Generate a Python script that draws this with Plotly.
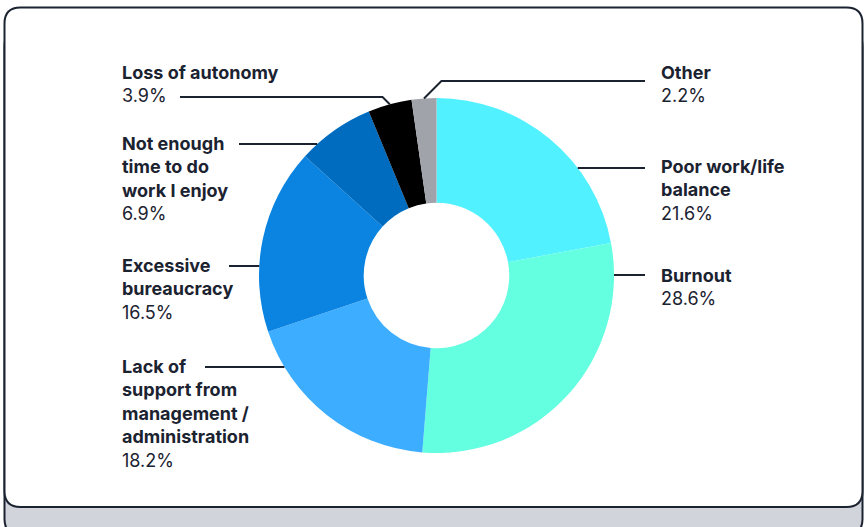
import math
import plotly.graph_objects as go

# Reasons and their shares (%)
reasons = [
    "Poor work/life balance",
    "Burnout",
    "Lack of support from management / administration",
    "Excessive bureaucracy",
    "Not enough time to do work I enjoy",
    "Loss of autonomy",
    "Other",
]
shares = [21.6, 28.6, 18.2, 16.5, 6.9, 3.9, 2.2]
slice_colors = ["#52F1FF", "#63FFE0", "#3DAEFF", "#0A84E0", "#006CC0", "#000000", "#A0A4AA"]

# Label text broken into lines as displayed
label_lines = [
    ["Poor work/life", "balance"],
    ["Burnout"],
    ["Lack of", "support from", "management /", "administration"],
    ["Excessive", "bureaucracy"],
    ["Not enough", "time to do", "work I enjoy"],
    ["Loss of autonomy"],
    ["Other"],
]
label_side = ["right", "right", "left", "left", "left", "left", "right"]
label_first_y = [167, 276, 367, 266, 144, 73, 73]     # px, centre of first text line
leader_y = [168, 275, 367, 266, 144, 97, 81]          # px, horizontal part of leader
leader_outer_x = [645, 645, 205, 229, 239, 180, 645]  # px, label end of the leader

W, H = 867, 527
CX, CY, R = 436.5, 275.5, 177.5
LEFT_X, RIGHT_X = 120, 659
FS = 18
INK = "#1B2230"


def px(x):
    return x / W


def py(y):
    return 1 - y / H


fig = go.Figure()
fig.add_trace(go.Pie(
    labels=reasons,
    values=shares,
    hole=0.41,
    sort=False,
    direction="clockwise",
    rotation=0,
    textinfo="none",
    hoverinfo="label+value",
    marker=dict(colors=slice_colors, line=dict(width=0)),
    domain=dict(x=[px(CX - R), px(CX + R)], y=[py(CY + R), py(CY - R)]),
    showlegend=False,
))

shapes = []


def rounded_rect(x0, y0, x1, y1, r):
    pts = [
        f"M {px(x0 + r)},{py(y0)}",
        f"L {px(x1 - r)},{py(y0)}",
        f"Q {px(x1)},{py(y0)} {px(x1)},{py(y0 + r)}",
        f"L {px(x1)},{py(y1 - r)}",
        f"Q {px(x1)},{py(y1)} {px(x1 - r)},{py(y1)}",
        f"L {px(x0 + r)},{py(y1)}",
        f"Q {px(x0)},{py(y1)} {px(x0)},{py(y1 - r)}",
        f"L {px(x0)},{py(y0 + r)}",
        f"Q {px(x0)},{py(y0)} {px(x0 + r)},{py(y0)}",
        "Z",
    ]
    return " ".join(pts)


# Card with a raised grey base
shapes.append(dict(type="path", path=rounded_rect(4.5, 30, 862.5, 535, 16), xref="paper", yref="paper",
                   fillcolor="#D1D5DB", line=dict(color=INK, width=2), layer="below"))
shapes.append(dict(type="path", path=rounded_rect(4.5, 7.5, 862.5, 507, 16), xref="paper", yref="paper",
                   fillcolor="#FFFFFF", line=dict(color=INK, width=2), layer="below"))

total = sum(shares)
cum = 0.0
annotations = []
for i, v in enumerate(shares):
    mid = (cum + v / 2) / total * 2 * math.pi
    cum += v
    ly = leader_y[i]
    side = label_side[i]
    sgn = 1 if side == "right" else -1
    if ly > CY - R:
        # horizontal leader meeting the outer rim
        ex = CX + sgn * math.sqrt(R ** 2 - (ly - CY) ** 2)
        path = f"M {px(leader_outer_x[i])},{py(ly)} L {px(ex)},{py(ly)}"
    else:
        # leader above the ring: elbow down to the slice middle
        mx = CX + R * math.sin(mid)
        my = CY - R * math.cos(mid)
        bx = mx + sgn * (my - ly)
        path = f"M {px(leader_outer_x[i])},{py(ly)} L {px(bx)},{py(ly)} L {px(mx)},{py(my)}"
    shapes.append(dict(type="path", path=path, xref="paper", yref="paper",
                       line=dict(color=INK, width=2), layer="above"))

    text = "<br>".join(f"<b>{t}</b>" for t in label_lines[i]) + f"<br>{v:.1f}%"
    line_h = FS * 1.3
    top = label_first_y[i] - line_h / 2 - 1
    annotations.append(dict(
        x=px(LEFT_X if side == "left" else RIGHT_X), y=py(top), xref="paper", yref="paper",
        xanchor="left", yanchor="top", align="left", showarrow=False,
        text=text, font=dict(family="Inter", size=FS, color=INK),
    ))

fig.update_layout(
    width=W, height=H,
    margin=dict(l=0, r=0, t=0, b=0),
    paper_bgcolor="#FFFFFF",
    plot_bgcolor="#FFFFFF",
    shapes=shapes,
    annotations=annotations,
)

fig.write_html("out.html")
